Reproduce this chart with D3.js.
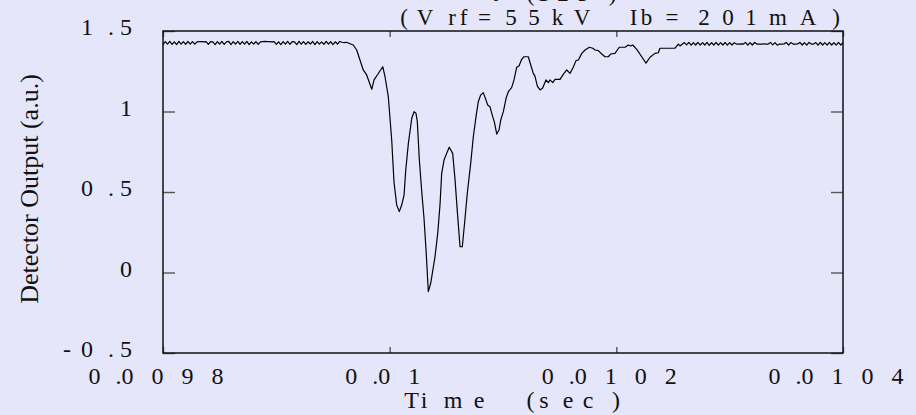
<!DOCTYPE html>
<html>
<head>
<meta charset="utf-8">
<script src="https://cdn.jsdelivr.net/npm/d3@7"></script>
<style>
html, body { margin: 0; padding: 0; background: #e6e6fa; }
svg { display: block; }
text { font-family: "Liberation Serif", "Times New Roman", serif; fill: #111; }
</style>
</head>
<body>
<script>
// detector trace, time in microseconds, output in a.u.
// flat part before the pulse
var beforeUs = [9800, 9802, 9804, 9806, 9808, 9810, 9812, 9814, 9816, 9818, 9820, 9822, 9824, 9826, 9828, 9830,
  9832, 9834, 9836, 9838,
  9840, 9842, 9844, 9846, 9848, 9850, 9852, 9854, 9856, 9858, 9860, 9862, 9864, 9866, 9868, 9870, 9872, 9874, 9876, 9878, 9880, 9882, 9884, 9886,
  9888, 9890, 9892, 9894, 9896, 9898,
  9900, 9902, 9904, 9906, 9908, 9910, 9912, 9914, 9916, 9918, 9920, 9922, 9924, 9926, 9928, 9930, 9932, 9934, 9936, 9938, 9940, 9942, 9944, 9946, 9948, 9950, 9952, 9954, 9956, 9958, 9960, 9962, 9964];
var before = [1.416, 1.434, 1.418, 1.435, 1.417, 1.433, 1.416, 1.435, 1.418, 1.434, 1.417, 1.435, 1.419, 1.434, 1.418, 1.433,
  1.434, 1.434, 1.433, 1.434,
  1.417, 1.434, 1.433, 1.416, 1.434, 1.418, 1.435, 1.417, 1.433, 1.435, 1.416, 1.434, 1.418, 1.435, 1.417, 1.434, 1.419, 1.435, 1.416, 1.433, 1.418, 1.434, 1.417, 1.433,
  1.434, 1.435, 1.434, 1.434, 1.433, 1.434,
  1.417, 1.433, 1.416, 1.434, 1.418, 1.435, 1.417, 1.434, 1.433, 1.416, 1.435, 1.418, 1.434, 1.417, 1.433, 1.419, 1.435, 1.416, 1.434, 1.418, 1.433, 1.417, 1.435, 1.418, 1.434, 1.416, 1.433, 1.419, 1.435, 1.430, 1.428, 1.430, 1.424];

// the pulse itself
var pulseUs = [9967.9, 9970.9, 9973.8, 9976.7, 9979.7, 9984.2, 9986.2, 9989.7, 9993.9, 9995.9,
  9998.8, 10001.8, 10003.8, 10006.2, 10008.5, 10010.6, 10012.7, 10014.2, 10016.5, 10019.5,
  10021.5, 10023.2, 10024.4, 10026.2, 10028.3, 10030.3, 10032.1, 10034.1, 10036.2, 10040.0,
  10042.4, 10044.4, 10045.9, 10048.0, 10050.3, 10052.6, 10055.6, 10057.7, 10059.7, 10062.1,
  10064.1, 10066.5, 10068.5, 10071.5, 10073.8, 10076.2, 10078.2, 10080.3, 10082.6, 10085.0,
  10086.5, 10088.5, 10090.9, 10092.3, 10094.5, 10096.5, 10098.0, 10100.3, 10102.7, 10104.7,
  10107.7, 10109.7, 10112.1, 10114.1, 10116.5, 10118.5, 10122.3, 10125.3, 10126.7, 10128.2,
  10130.3, 10132.7, 10135.0, 10137.9, 10140.0, 10141.5, 10143.9, 10145.9, 10150.3, 10153.2,
  10156.2, 10159.1, 10162.0, 10164.4, 10166.5, 10169.5, 10172.4, 10176.2, 10179.2, 10181.2,
  10184.1, 10187.1, 10190.0, 10192.9, 10195.0, 10198.8, 10202.6, 10207.7, 10210.6, 10212.7,
  10214.5, 10218.0, 10222.4, 10226.2, 10229.7, 10234.1, 10237.0, 10238.5, 10251.8, 10254.7,
  10256.2];
var pulse = [1.413, 1.382, 1.320, 1.258, 1.227, 1.138, 1.196, 1.233, 1.278, 1.216,
  1.092, 0.823, 0.564, 0.419, 0.378, 0.419, 0.481, 0.637, 0.802, 0.958,
  0.999, 0.989, 0.937, 0.699, 0.502, 0.337, 0.140, -0.119, -0.067, 0.098,
  0.243, 0.419, 0.616, 0.699, 0.740, 0.778, 0.740, 0.575, 0.378, 0.160,
  0.160, 0.337, 0.492, 0.678, 0.843, 0.968, 1.061, 1.102, 1.117, 1.071,
  1.040, 1.030, 0.968, 0.937, 0.860, 0.885, 0.947, 0.999, 1.082, 1.123,
  1.150, 1.196, 1.275, 1.283, 1.324, 1.340, 1.340, 1.270, 1.237, 1.220,
  1.158, 1.134, 1.146, 1.196, 1.179, 1.196, 1.179, 1.200, 1.200, 1.231,
  1.258, 1.237, 1.275, 1.316, 1.320, 1.361, 1.382, 1.399, 1.393, 1.382,
  1.378, 1.357, 1.340, 1.340, 1.357, 1.361, 1.399, 1.399, 1.413, 1.407,
  1.413, 1.386, 1.340, 1.301, 1.337, 1.361, 1.365, 1.393, 1.393, 1.419,
  1.407];

// flat part after the pulse
var afterUs = [10260, 10262, 10264, 10266, 10268, 10270, 10272, 10274, 10276, 10278, 10280, 10282, 10284, 10286, 10288, 10290, 10292, 10294, 10296, 10298, 10300, 10302, 10304,
  10306, 10308, 10310, 10312,
  10314, 10316, 10318, 10320, 10322, 10324,
  10326, 10328, 10330, 10332, 10334,
  10336, 10338, 10340, 10342, 10344, 10346, 10348,
  10350, 10352, 10354, 10356, 10358, 10360,
  10362, 10364, 10366, 10368, 10370, 10372, 10374,
  10376, 10378, 10380, 10382, 10384, 10386, 10388, 10390, 10392, 10394, 10396, 10398, 10400];
var after = [1.428, 1.414, 1.429, 1.412, 1.428, 1.413, 1.429, 1.412, 1.428, 1.413, 1.429, 1.411, 1.428, 1.413, 1.429, 1.412, 1.428, 1.413, 1.429, 1.412, 1.428, 1.413, 1.427,
  1.419, 1.419, 1.420, 1.419,
  1.429, 1.412, 1.428, 1.413, 1.429, 1.419,
  1.419, 1.419, 1.420, 1.419, 1.419,
  1.429, 1.414, 1.428, 1.412, 1.419, 1.419, 1.420,
  1.429, 1.413, 1.428, 1.419, 1.419, 1.420,
  1.429, 1.413, 1.428, 1.412, 1.429, 1.419, 1.419,
  1.428, 1.412, 1.429, 1.413, 1.428, 1.412, 1.429, 1.413, 1.428, 1.412, 1.429, 1.413, 1.428];

var xTicks = [0.0098, 0.0100, 0.0102, 0.0104];
var xTickLabels = ["0.0098", "0.01", "0.0102", "0.0104"];
var yTicks = [-0.5, 0, 0.5, 1, 1.5];
var yTickLabels = ["-0.5", "0", "0.5", "1", "1.5"];

var titleText = "(Vrf=55kV Ib=201mA)";
var titleTopText = "t(123)";
var xTitle = "Time (sec)";
var yTitle = "Detector Output (a.u.)";

// set the dimensions and margins of the graph
var margin = {top: 31, right: 73, bottom: 62, left: 163},
    width = 916 - margin.left - margin.right,
    height = 415 - margin.top - margin.bottom;

var x = d3.scaleLinear().domain([0.0098, 0.0104]).range([0, width]);
var y = d3.scaleLinear().domain([-0.5, 1.5]).range([height, 0]);

var data = [];
[[beforeUs, before], [pulseUs, pulse], [afterUs, after]].forEach(function(seg) {
  seg[0].forEach(function(t, i) { data.push({t: t / 1e6, v: seg[1][i]}); });
});

var root = d3.select("body").append("svg")
    .attr("width", 916)
    .attr("height", 415);

root.append("rect")
    .attr("width", 916).attr("height", 415)
    .attr("fill", "#e6e6fa");

var svg = root.append("g")
    .attr("transform", "translate(" + margin.left + "," + margin.top + ")");

// inward ticks on all four sides
function styleAxis(g) {
  g.select(".domain").remove();
  g.selectAll(".tick line").attr("stroke", "#555").attr("stroke-width", 1.4);
  g.selectAll(".tick text").remove();
}
svg.append("g").attr("transform", "translate(0," + height + ")")
    .call(d3.axisBottom(x).tickValues(xTicks).tickSize(-6)).call(styleAxis);
svg.append("g")
    .call(d3.axisTop(x).tickValues(xTicks).tickSize(-6)).call(styleAxis);
svg.append("g")
    .call(d3.axisLeft(y).tickValues(yTicks).tickSize(-12)).call(styleAxis);
svg.append("g").attr("transform", "translate(" + width + ",0)")
    .call(d3.axisRight(y).tickValues(yTicks).tickSize(-12)).call(styleAxis);

// frame
svg.append("rect")
    .attr("width", width).attr("height", height)
    .attr("fill", "none").attr("stroke", "#111").attr("stroke-width", 1.5);

// the trace
var line = d3.line()
    .x(function(d) { return x(d.t); })
    .y(function(d) { return y(d.v); });

svg.append("path")
    .datum(data)
    .attr("fill", "none")
    .attr("stroke", "#000")
    .attr("stroke-width", 1.2)
    .attr("stroke-linejoin", "round")
    .attr("d", line);

// spaced-out tick label layout (old postscript look)
function charOffsets(str, dotBefore, dotAfter) {
  var pos = [], cur = 0;
  for (var i = 0; i < str.length; i++) {
    if (i > 0) {
      var prev = str[i - 1], c = str[i];
      if (c === ".") cur += dotBefore;
      else if (prev === ".") cur += dotAfter;
      else if (prev === "-") cur += 20;
      else cur += 30;
    }
    pos.push(cur);
  }
  return pos;
}

svg.selectAll(".xlab")
    .data(xTicks)
  .enter().append("text")
    .attr("class", "xlab")
    .attr("y", height + 31)
    .attr("text-anchor", "middle")
    .attr("font-size", 24)
    .attr("x", function(d, i) {
      var offs = charOffsets(xTickLabels[i], 24, 9);
      var mid = (offs[0] + offs[offs.length - 1]) / 2;
      return offs.map(function(o) { return (x(d) - 7 - mid + o).toFixed(1); }).join(" ");
    })
    .text(function(d, i) { return xTickLabels[i]; });

svg.selectAll(".ylab")
    .data(yTicks)
  .enter().append("text")
    .attr("class", "ylab")
    .attr("y", function(d) { return y(d) + 4; })
    .attr("text-anchor", "middle")
    .attr("font-size", 24)
    .attr("x", function(d, i) {
      var offs = charOffsets(yTickLabels[i], 24, 15);
      var last = offs[offs.length - 1];
      return offs.map(function(o) { return (-37 - last + o).toFixed(1); }).join(" ");
    })
    .text(function(d, i) { return yTickLabels[i]; });

// titles, characters placed one by one like the original
var titleX = [404, 425, 452, 463.5, 484.5, 511, 534, 557.5, 582, 607, 633.5, 646.5, 672, 704, 728, 751, 778, 808, 836];
root.append("text")
    .attr("y", 25)
    .attr("text-anchor", "middle")
    .attr("font-size", 23)
    .attr("x", titleX.join(" "))
    .text(titleText);

var titleTopX = [495, 530.5, 543, 563, 583, 612.5];
root.append("text")
    .attr("y", 1)
    .attr("text-anchor", "middle")
    .attr("font-size", 23)
    .attr("x", titleTopX.join(" "))
    .text(titleTopText);

var xTitleX = [411.5, 424, 453, 479, 505, 530.5, 544, 568, 588, 616];
root.append("text")
    .attr("y", 408)
    .attr("text-anchor", "middle")
    .attr("font-size", 24)
    .attr("x", xTitleX.join(" "))
    .text(xTitle);

root.append("text")
    .attr("transform", "translate(37.5,189) rotate(-90)")
    .attr("text-anchor", "middle")
    .attr("font-size", 26)
    .text(yTitle);
</script>
</body>
</html>
